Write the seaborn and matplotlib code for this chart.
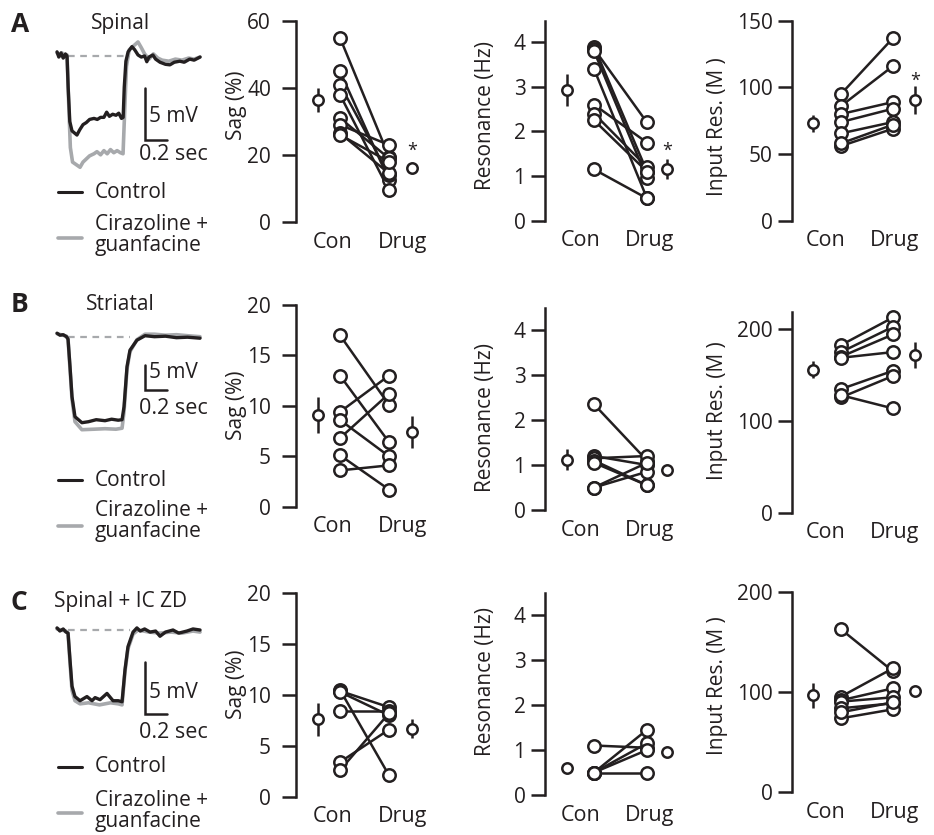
import numpy as np
import pandas as pd
import matplotlib
matplotlib.use("Agg")
import matplotlib.pyplot as plt
import seaborn as sns

# ---------------- data ----------------
# voltage traces: (time s, mV relative to rest)
trace_a_ctrl = [(0.064, 0.4), (0.08, -0.1), (0.1, 0.3), (0.12, -0.2), (0.14, 0.2), (0.155, 0.0),
                (0.165, -3.0), (0.18, -6.3), (0.2, -7.2), (0.245, -7.6), (0.27, -7.1), (0.3, -6.6),
                (0.33, -6.4), (0.36, -6.1), (0.4, -6.0), (0.43, -6.1), (0.46, -5.9), (0.49, -5.9),
                (0.515, -5.4), (0.54, -5.8), (0.57, -5.6), (0.6, -5.7), (0.625, -5.5), (0.65, -6.0),
                (0.665, -5.9), (0.675, -3.0), (0.69, -0.5), (0.71, 0.4), (0.745, 0.9), (0.77, 0.6),
                (0.8, 0.1), (0.83, -0.1), (0.86, 0.0), (0.88, -0.55), (0.9, -0.1), (0.935, 0.1),
                (0.96, -0.3), (1.0, -0.6), (1.05, -0.8), (1.09, -0.85), (1.13, -0.6), (1.18, -0.5),
                (1.22, -0.6), (1.27, -0.3), (1.31, -0.4), (1.364, -0.1)]
trace_a_drug = [(0.064, 0.3), (0.09, 0.0), (0.11, 0.3), (0.13, -0.1), (0.155, 0.1), (0.168, -4.0),
                (0.185, -8.8), (0.205, -10.2), (0.273, -10.7), (0.3, -10.2), (0.33, -9.9), (0.36, -9.6),
                (0.4, -9.4), (0.427, -9.2), (0.46, -9.5), (0.49, -9.1), (0.52, -9.4), (0.55, -9.0),
                (0.58, -9.3), (0.61, -9.1), (0.64, -9.3), (0.664, -9.4), (0.68, -5.0), (0.695, -1.0),
                (0.72, 0.6), (0.8, 1.35), (0.83, 0.8), (0.86, 0.2), (0.9, -0.3), (0.94, 0.2),
                (0.98, -0.2), (1.02, -0.4), (1.08, -0.5), (1.14, -0.3), (1.2, -0.4), (1.26, -0.2),
                (1.31, -0.3), (1.364, -0.1)]
trace_b_ctrl = [(0.064, 0.7), (0.09, 0.3), (0.12, 0.4), (0.15, 0.0), (0.164, -0.5), (0.182, -6.0),
                (0.2, -12.0), (0.227, -16.0), (0.29, -17.2), (0.35, -17.0), (0.42, -16.6), (0.5, -16.8),
                (0.56, -16.5), (0.62, -16.7), (0.655, -16.6), (0.673, -14.0), (0.7, -6.0), (0.727, -2.7),
                (0.79, -0.7), (0.864, 0.2), (0.95, 0.0), (1.05, 0.1), (1.15, -0.2), (1.25, -0.1),
                (1.364, -0.3)]
trace_b_drug = [(0.064, 0.6), (0.1, 0.4), (0.15, 0.1), (0.164, -0.5), (0.182, -6.5), (0.2, -12.5),
                (0.227, -17.0), (0.29, -18.6), (0.4, -18.5), (0.5, -18.4), (0.6, -18.5), (0.655, -18.3),
                (0.673, -15.0), (0.7, -6.5), (0.727, -3.0), (0.79, -0.6), (0.864, 0.5), (0.95, 0.5),
                (1.05, 0.3), (1.15, 0.4), (1.25, 0.2), (1.364, 0.0)]
trace_c_ctrl = [(0.064, 0.2), (0.09, -0.1), (0.12, 0.1), (0.145, -0.2), (0.164, -0.3), (0.182, -2.9),
                (0.2, -5.4), (0.227, -6.4), (0.273, -6.8), (0.336, -6.4), (0.382, -6.8), (0.41, -6.5),
                (0.455, -6.7), (0.518, -6.1), (0.573, -6.8), (0.62, -6.8), (0.655, -6.9), (0.682, -3.8),
                (0.709, -1.6), (0.755, -0.2), (0.79, 0.2), (0.82, -0.1), (0.86, 0.1), (0.91, -0.2),
                (0.96, -0.1), (1.0, -0.6), (1.05, -0.2), (1.118, 0.0), (1.17, -0.3), (1.245, -0.1),
                (1.3, 0.1), (1.364, 0.0)]
trace_c_drug = [(0.064, 0.1), (0.1, 0.0), (0.145, -0.1), (0.164, -0.3), (0.182, -3.2), (0.2, -5.8),
                (0.227, -6.8), (0.273, -7.1), (0.35, -7.0), (0.45, -7.2), (0.55, -7.0), (0.62, -7.1),
                (0.655, -7.2), (0.682, -4.0), (0.709, -1.8), (0.755, -0.4), (0.8, 0.0), (0.9, -0.2),
                (1.0, -0.3), (1.1, -0.2), (1.2, -0.3), (1.3, -0.1), (1.364, -0.2)]

# paired values per cell (Con -> Drug), plus mean and SEM shown beside
sag_a_con = [55, 45, 41, 38, 31, 29, 26.5, 26]
sag_a_drug = [19.5, 12.5, 14, 9.5, 19, 23, 14.5, 18]
sag_a_mean, sag_a_sem = [36.3, 16.0], [3.6, 0.5]
res_a_con = [3.9, 3.85, 3.8, 3.4, 2.6, 2.4, 2.25, 1.15]
res_a_drug = [1.1, 2.2, 0.95, 0.5, 1.75, 1.2, 1.1, 0.5]
res_a_mean, res_a_sem = [2.93, 1.16], [0.36, 0.22]
inp_a_con = [95, 86, 80, 74, 65.5, 56, 58]
inp_a_drug = [137, 116, 89, 84, 74, 69, 72]
inp_a_mean, inp_a_sem = [73, 90.5], [6.6, 10.5]

sag_b_con = [17, 13, 9.4, 8.6, 6.8, 5.1, 3.6]
sag_b_drug = [10.1, 6.4, 13, 5.0, 11.2, 1.7, 4.1]
sag_b_mean, sag_b_sem = [9.1, 7.4], [1.8, 1.6]
res_b_con = [2.35, 1.2, 1.15, 1.1, 1.05, 0.5, 0.5]
res_b_drug = [1.1, 1.0, 1.2, 0.55, 0.55, 0.85, 1.05]
res_b_mean, res_b_sem = [1.12, 0.9], [0.24, 0.03]
inp_b_con = [182.6, 175, 170, 168.8, 134.7, 125.6, 128]
inp_b_drug = [212.7, 202.5, 194.2, 175, 154.6, 149, 113.6]
inp_b_mean, inp_b_sem = [156, 172], [9.5, 14]

sag_c_con = [10.5, 10.4, 10.3, 8.4, 3.4, 2.6]
sag_c_drug = [2.1, 8.8, 8.0, 8.4, 6.6, 8.2]
sag_c_mean, sag_c_sem = [7.6, 6.7], [1.6, 0.9]
res_c_con = [1.1, 0.5, 0.5, 0.5, 0.5]
res_c_drug = [1.05, 1.45, 1.15, 1.0, 0.5]
res_c_mean, res_c_sem = [0.6, 0.95], [0.02, 0.09]
inp_c_con = [163, 95.7, 92, 90.7, 84, 74, 80]
inp_c_drug = [121, 124, 104, 95, 89, 83, 90]
inp_c_mean, inp_c_sem = [97, 101], [12.5, 5]

cond_labels = ["Con", "Drug"]
row_letters = ["A", "B", "C"]
row_titles = ["Spinal", "Striatal", "Spinal + IC ZD"]
legend_labels = ["Control", "Cirazoline +", "guanfacine"]
stars_a = {"sag": 22.5, "res": 1.66, "inp": 108}

# ---------------- layout (pixels) ----------------
W, H = 934, 835
INK = "#231f20"
GREY = "#a7a9ac"

sns.set_theme(style="white")
plt.rcParams["font.family"] = ["Open Sans", "DejaVu Sans"]
plt.rcParams["text.color"] = INK
plt.rcParams["axes.labelcolor"] = INK
plt.rcParams["xtick.color"] = INK
plt.rcParams["ytick.color"] = INK

fig = plt.figure(figsize=(W / 100, H / 100), dpi=100)
fig.patch.set_facecolor("white")


def px_axes(left, top, right, bottom):
    return fig.add_axes([left / W, 1 - bottom / H, (right - left) / W, (bottom - top) / H])


ov = px_axes(0, 0, W, H)
ov.set_xlim(0, W)
ov.set_ylim(H, 0)
ov.axis("off")

# columns: spine, con, drug, mean-con, mean-drug, xlabel px (con, drug), ylabel right px, tick pad
cols = {
    "sag": dict(spine=296, con=340, drug=389, mcon=318, mdrug=412, lab=(333, 403), ylab=247, pad=8,
                label="Sag (%)"),
    "res": dict(spine=545, con=594, drug=647, mcon=567, mdrug=667, lab=(581, 650), ylab=496, pad=4,
                label="Resonance (Hz)"),
    "inp": dict(spine=792, con=841, drug=893, mcon=813, mdrug=915, lab=(826, 895), ylab=728, pad=4,
                label="Input Res. (M )"),
}
# rows: per column (y0 px, ytop px, ytop value, yticks, ylabel centre px)
rows = [
    {"sag": (222, 21, 60, [0, 20, 40, 60], 105),
     "res": (220.7, 20.7, 4.48, [0, 1, 2, 3, 4], 116),
     "inp": (220.7, 20.7, 150, [0, 50, 100, 150], 127)},
    {"sag": (506.7, 305, 20, [0, 5, 10, 15, 20], 405),
     "res": (510, 308, 4.49, [0, 1, 2, 3, 4], 417),
     "inp": (512.7, 311.7, 219, [0, 100, 200], 411)},
    {"sag": (796.7, 593.3, 20, [0, 5, 10, 15, 20], 684),
     "res": (795, 593, 4.49, [0, 1, 2, 3, 4], 682),
     "inp": (792.3, 592.3, 200, [0, 100, 200], 686)},
]
row_data = [
    {"sag": (sag_a_con, sag_a_drug, sag_a_mean, sag_a_sem),
     "res": (res_a_con, res_a_drug, res_a_mean, res_a_sem),
     "inp": (inp_a_con, inp_a_drug, inp_a_mean, inp_a_sem)},
    {"sag": (sag_b_con, sag_b_drug, sag_b_mean, sag_b_sem),
     "res": (res_b_con, res_b_drug, res_b_mean, res_b_sem),
     "inp": (inp_b_con, inp_b_drug, inp_b_mean, inp_b_sem)},
    {"sag": (sag_c_con, sag_c_drug, sag_c_mean, sag_c_sem),
     "res": (res_c_con, res_c_drug, res_c_mean, res_c_sem),
     "inp": (inp_c_con, inp_c_drug, inp_c_mean, inp_c_sem)},
]

# trace boxes: top, bottom, baseline px, px per mV
trace_boxes = [(15, 175, 56, 10.4), (295, 450, 336.7, 5.0), (590, 730, 630, 10.4)]
traces = [(trace_a_ctrl, trace_a_drug), (trace_b_ctrl, trace_b_drug), (trace_c_ctrl, trace_c_drug)]
scale_corner_px = [140, 390, 714]
# text anchors per row
row_text = [
    dict(letter=24, mv=117, sec=155, ctrl=192, cira=225, guan=245, gray=238),
    dict(letter=305, mv=373, sec=408, ctrl=480, cira=510, guan=531, gray=526),
    dict(letter=602, mv=692, sec=732, ctrl=767, cira=800, guan=821, gray=813),
]
T_LEFT, T_RIGHT, PX_PER_S = 50, 215, 110.0
FS = 15


def paired_panel(ax, con, drug, means, sems, geo, rgeo, star=None):
    y0, ytop, yt_val, yticks, ylab_c = rgeo
    ppu = geo["drug"] - geo["con"]
    to_x = lambda p: (p - geo["con"]) / ppu
    n = len(con)
    df = pd.DataFrame({"cell": list(range(n)) * 2,
                       "cond": [0] * n + [1] * n,
                       "value": list(con) + list(drug)})
    sns.lineplot(data=df, x="cond", y="value", units="cell", estimator=None, sort=False,
                 color=INK, lw=1.8, ax=ax, legend=False, zorder=2)
    sns.scatterplot(data=df, x="cond", y="value", s=80, facecolor="white", edgecolor=INK,
                    linewidth=1.8, ax=ax, zorder=3, clip_on=False, legend=False)
    ax.errorbar([to_x(geo["mcon"]), to_x(geo["mdrug"])], means, yerr=sems, fmt="o", ms=7.5,
                mfc="white", mec=INK, mew=1.8, ecolor=INK, elinewidth=1.8, capsize=0,
                zorder=4, clip_on=False)
    if star is not None:
        # glyph sits high in its box, so anchor it a little lower
        ax.annotate("*", (to_x(geo["mdrug"]), star), xytext=(0, -3), textcoords="offset points",
                    ha="center", va="center", fontsize=13, color=INK)
    ax.set_xlim(to_x(geo["spine"]), to_x(geo["spine"] + 135))
    ax.set_ylim(0, yt_val)
    ax.set_yticks(yticks)
    ax.set_xticks([to_x(geo["lab"][0]), to_x(geo["lab"][1])])
    ax.set_xticklabels(cond_labels)
    for side in ["top", "right", "bottom"]:
        ax.spines[side].set_visible(False)
    ax.spines["left"].set_linewidth(1.8)
    ax.spines["left"].set_color(INK)
    ax.tick_params(axis="y", direction="out", length=10, width=1.8, labelsize=FS,
                   pad=geo["pad"], left=True)
    ax.tick_params(axis="x", length=0, labelsize=FS + 0.5, pad=7)
    ax.set_xlabel("")
    ax.set_ylabel(geo["label"], fontsize=FS)
    ax.yaxis.set_label_coords((geo["ylab"] - geo["spine"]) / 135, (y0 - ylab_c) / (y0 - ytop))
    ax.patch.set_alpha(0)


for r in range(3):
    # trace panel
    top, bot, base, ppm = trace_boxes[r]
    tax = px_axes(T_LEFT, top, T_RIGHT, bot)
    tax.set_xlim(0, (T_RIGHT - T_LEFT) / PX_PER_S)
    tax.set_ylim(-(bot - base) / ppm, (base - top) / ppm)
    tax.axis("off")
    ctrl, drug = traces[r]
    ct, cv = np.array(ctrl).T
    dt, dv = np.array(drug).T
    tax.plot([(68 - T_LEFT) / PX_PER_S, (130 - T_LEFT) / PX_PER_S], [0, 0], color=GREY,
             lw=1.6, ls=(0, (3, 2.5)), zorder=1)
    sns.lineplot(x=dt, y=dv, color=GREY, lw=2.6, ax=tax, sort=False, estimator=None, zorder=2)
    sns.lineplot(x=ct, y=cv, color=INK, lw=2.4, ax=tax, sort=False, estimator=None, zorder=3)
    # scale bar: 5 mV by 0.2 s
    bx = (145 - T_LEFT) / PX_PER_S
    by = -(scale_corner_px[r] - base) / ppm
    tax.plot([bx, bx, bx + 0.2], [by + 5, by, by], color=INK, lw=1.8, solid_joinstyle="miter",
             clip_on=False)
    tax.set_xlabel("")
    tax.set_ylabel("")

    rt = row_text[r]
    ov.text(11, rt["letter"], row_letters[r], fontsize=19, fontweight="bold", ha="left", va="center")
    ov.text(120, rt["letter"], row_titles[r], fontsize=FS, ha="center", va="center")
    ov.text(149, rt["mv"], "5 mV", fontsize=FS, ha="left", va="center")
    ov.text(139, rt["sec"], "0.2 sec", fontsize=FS + 0.5, ha="left", va="center")
    ov.plot([58, 82], [rt["ctrl"], rt["ctrl"]], color=INK, lw=2.2)
    ov.plot([58, 82], [rt["gray"], rt["gray"]], color=GREY, lw=2.6)
    ov.text(95, rt["ctrl"], legend_labels[0], fontsize=FS, ha="left", va="center")
    ov.text(95, rt["cira"], legend_labels[1], fontsize=FS, ha="left", va="center")
    ov.text(95, rt["guan"], legend_labels[2], fontsize=FS, ha="left", va="center")

    # paired panels
    for key in ["sag", "res", "inp"]:
        geo = cols[key]
        rgeo = rows[r][key]
        y0, ytop = rgeo[0], rgeo[1]
        ax = px_axes(geo["spine"], ytop, geo["spine"] + 135, y0)
        con, drg, means, sems = row_data[r][key]
        paired_panel(ax, con, drg, means, sems, geo, rgeo,
                     star=stars_a[key] if r == 0 else None)

fig.savefig("out.png", dpi=100, facecolor="white")
